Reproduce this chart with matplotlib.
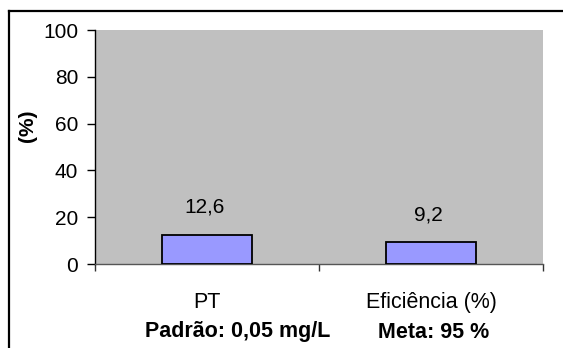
import matplotlib
matplotlib.use("Agg")
import matplotlib.pyplot as plt
from matplotlib.lines import Line2D

# Data
categories = ["PT", "Eficiência (%)"]
values = [12.6, 9.2]
notes = ["Padrão: 0,05 mg/L", "Meta: 95 %"]
y_ticks = [0, 20, 40, 60, 80, 100]

plt.rcParams["font.family"] = ["Liberation Sans", "DejaVu Sans"]

W, H = 563, 348
fig = plt.figure(figsize=(W / 100, H / 100), dpi=100)
fig.patch.set_facecolor("white")

ax = fig.add_axes([95 / W, 1 - 264 / H, (543 - 95) / W, (264 - 30) / H])
ax.set_facecolor("#C0C0C0")

x = list(range(len(categories)))
bars = ax.bar(x, values, width=0.405, color="#9999FF", edgecolor="black",
              linewidth=1.3, zorder=3)

for xi, v in zip(x, values):
    ax.annotate(f"{v:.1f}".replace(".", ","), xy=(xi - 0.01, v),
                xytext=(0, 15.5), textcoords="offset points",
                ha="center", va="baseline", fontsize=15, color="black")

ax.set_xlim(-0.5, len(categories) - 0.5)
ax.set_ylim(0, 100)
ax.set_yticks(y_ticks)
ax.set_yticklabels([str(t) for t in y_ticks], fontsize=15)
ax.tick_params(axis="y", direction="out", length=6, width=1, pad=6,
               color="black")

ax.set_xticks(x)
ax.set_xticklabels(categories, fontsize=15.5)
ax.tick_params(axis="x", which="major", length=0, pad=20)
ax.set_xticks([i - 0.5 for i in range(len(categories) + 1)], minor=True)
ax.tick_params(axis="x", which="minor", direction="out", length=5, width=1,
               color="#333333")

for side in ("top", "right"):
    ax.spines[side].set_visible(False)
ax.spines["left"].set_color("black")
ax.spines["left"].set_linewidth(1.0)
ax.spines["bottom"].set_color("#555555")
ax.spines["bottom"].set_linewidth(1.0)

# Axis title
fig.text(27 / W, 1 - 126 / H, "(%)", rotation=90, ha="center", va="center",
         fontsize=15, fontweight="bold")

# Reference notes under each category
note_x = [238, 434]
for nx, note in zip(note_x, notes):
    fig.text(nx / W, 1 - 332 / H, note, ha="center", va="center",
             fontsize=15.5, fontweight="bold")

# Frame around the chart
fig.add_artist(Line2D([8.6 / W, 1.0], [1 - 10.7 / H, 1 - 10.7 / H],
                      transform=fig.transFigure, color="black", lw=1.6))
fig.add_artist(Line2D([8.6 / W, 8.6 / W], [0.0, 1 - 10.7 / H],
                      transform=fig.transFigure, color="black", lw=1.6))

fig.savefig("out.png", dpi=100)
